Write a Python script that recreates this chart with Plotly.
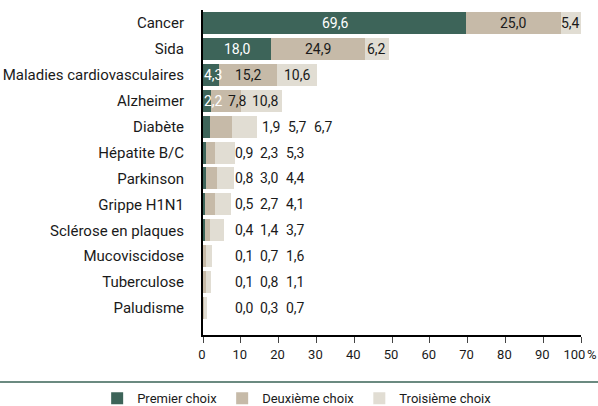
import plotly.graph_objects as go

categories = ["Cancer", "Sida", "Maladies cardiovasculaires", "Alzheimer", "Diabète",
              "Hépatite B/C", "Parkinson", "Grippe H1N1", "Sclérose en plaques",
              "Mucoviscidose", "Tuberculose", "Paludisme"]
premier = [69.6, 18.0, 4.3, 2.2, 1.9, 0.9, 0.8, 0.5, 0.4, 0.1, 0.1, 0.0]
deuxieme = [25.0, 24.9, 15.2, 7.8, 5.7, 2.3, 3.0, 2.7, 1.4, 0.7, 0.8, 0.3]
troisieme = [5.4, 6.2, 10.6, 10.8, 6.7, 5.3, 4.4, 4.1, 3.7, 1.6, 1.1, 0.7]
series_names = ["Premier choix", "Deuxième choix", "Troisième choix"]
tick_vals = [0, 10, 20, 30, 40, 50, 60, 70, 80, 90, 100]
tick_text = ["0", "10", "20", "30", "40", "50", "60", "70", "80", "90", "100\u202f%"]

colors = ["#3d6459", "#c6baa8", "#e1ddd3"]
FONT = "Roboto, Liberation Sans Narrow, sans-serif"
LBL = 14
PX_PER_UNIT = 378 / 100.0

fig = go.Figure()
series = [premier, deuxieme, troisieme]
for name, vals, col in zip(series_names, series, colors):
    fig.add_trace(go.Bar(
        y=categories, x=vals, name=name, orientation="h",
        marker=dict(color=col, line=dict(width=0)),
        width=0.85, hoverinfo="x+y+name",
    ))

def fmt(v):
    return f"{v:.1f}".replace(".", ",")

def text_w_units(s):
    px = sum(0.22 if c == "," else 0.56 for c in s) * LBL
    return px / PX_PER_UNIT

annotations = []
for i, cat in enumerate(categories):
    vals = [premier[i], deuxieme[i], troisieme[i]]
    total = sum(vals)
    if total >= 20:
        start = 0.0
        prev_right = 0.0
        for k, v in enumerate(vals):
            t = fmt(v)
            hw = text_w_units(t) / 2
            min_c = (0.3 + hw) if k == 0 else (prev_right + 5 / PX_PER_UNIT + hw)
            cx = max(start + v / 2, min_c)
            prev_right = cx + hw
            annotations.append(dict(
                x=cx, y=cat, xref="x", yref="y", text=t, showarrow=False,
                xanchor="center", yanchor="middle",
                font=dict(family=FONT, size=LBL, color="#ffffff" if k == 0 else "#1a1a1a"),
            ))
            start += v
    else:
        base = 10.85 if total < 10 else total + 3.95
        for k, v in enumerate(vals):
            annotations.append(dict(
                x=base + 6.85 * k, y=cat, xref="x", yref="y", text=fmt(v), showarrow=False,
                xanchor="center", yanchor="middle",
                font=dict(family=FONT, size=LBL, color="#1a1a1a"),
            ))

fig.update_layout(
    barmode="stack",
    width=598, height=406,
    margin=dict(l=203, r=17, t=10, b=71, autoexpand=False),
    paper_bgcolor="white", plot_bgcolor="white",
    font=dict(family=FONT, size=15, color="#1a1a1a"),
    bargap=0.15,
    annotations=annotations,
    showlegend=True,
    legend=dict(
        orientation="h", x=-0.280, xanchor="left", y=-0.195, yanchor="middle",
        font=dict(family=FONT, size=13, color="#1a1a1a"),
        bgcolor="rgba(0,0,0,0)",
        traceorder="normal", itemclick=False, itemdoubleclick=False,
    ),
    shapes=[dict(
        type="line", xref="paper", yref="paper",
        x0=-0.537, x1=1.045, y0=-0.1446, y1=-0.1446,
        line=dict(color="#6b8a80", width=2),
    )],
)
fig.update_xaxes(
    range=[0, 100], tickvals=tick_vals, ticktext=tick_text,
    showgrid=False, zeroline=False,
    showline=True, linecolor="#000000", linewidth=2,
    ticks="outside", ticklen=6, tickwidth=1, tickcolor="#444444",
    tickfont=dict(family=FONT, size=13, color="#1a1a1a"),
    ticklabeloverflow="allow", ticklabelshift=-1,
)
fig.update_yaxes(
    range=[12.04, -0.5], type="category",
    showgrid=False, zeroline=False,
    showline=True, linecolor="#000000", linewidth=2,
    ticks="outside", ticklen=14, tickcolor="rgba(0,0,0,0)",
    tickfont=dict(family=FONT, size=15, color="#1a1a1a"),
)

fig.write_html(
    "out.html",
    config={"displayModeBar": False},
    post_script="document.body.style.margin='0';document.body.style.padding='0';document.body.style.overflow='hidden';",
)
